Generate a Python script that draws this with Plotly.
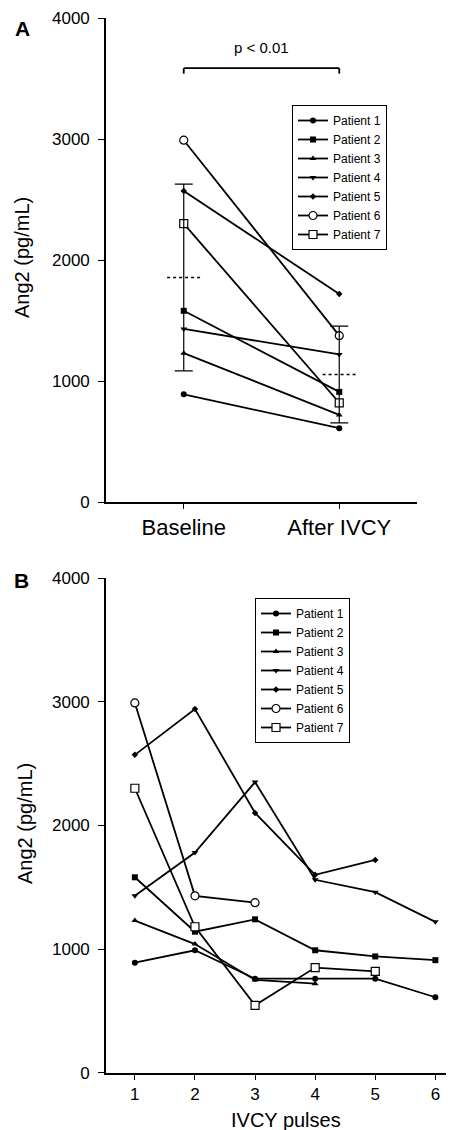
import numpy as np
import plotly.graph_objects as go

# ---------------- data ----------------
patients = ["Patient 1", "Patient 2", "Patient 3", "Patient 4", "Patient 5", "Patient 6", "Patient 7"]
conditions = ["Baseline", "After IVCY"]
baseline = [890, 1580, 1230, 1430, 2570, 2990, 2300]
after_ivcy = [610, 910, 720, 1220, 1720, 1375, 820]

pulses = [1, 2, 3, 4, 5, 6]
p1 = [890, 990, 760, 760, 760, 610]
p2 = [1580, 1140, 1240, 990, 940, 910]
p3 = [1230, 1040, 750, 720]
p4 = [1430, 1780, 2350, 1560, 1460, 1220]
p5 = [2570, 2940, 2100, 1600, 1720]
p6 = [2990, 1430, 1375]
p7 = [2300, 1180, 545, 850, 820]
series_b = [p1, p2, p3, p4, p5, p6, p7]

y_ticks = [0, 1000, 2000, 3000, 4000]
p_text = "p < 0.01"

# ---------------- style ----------------
W, H = 454, 1130
OFF = 8  # page body margin offset
FONT = "Liberation Sans, Arial, Helvetica, sans-serif"
marker_styles = [
    dict(symbol="circle", size=6, color="black"),
    dict(symbol="square", size=6, color="black"),
    dict(symbol="triangle-up", size=6, color="black"),
    dict(symbol="triangle-down", size=6, color="black"),
    dict(symbol="diamond", size=5, color="black"),
    dict(symbol="circle", size=8, color="white", line=dict(color="black", width=1.2)),
    dict(symbol="square", size=8, color="white", line=dict(color="black", width=1.2)),
]
LW = 1.8

def px_x(p):
    return (p - OFF) / W

def px_y(p):
    return (H - (p - OFF)) / H

fig = go.Figure()

# ---- Panel A ----
xa = list(range(len(conditions)))
for name, b, a, ms in zip(patients, baseline, after_ivcy, marker_styles):
    fig.add_trace(go.Scatter(
        x=xa, y=[b, a], mode="lines+markers", name=name,
        line=dict(color="black", width=LW), marker=ms,
        xaxis="x", yaxis="y", legend="legend"))

groups = [baseline, after_ivcy]
means = [float(np.mean(g)) for g in groups]
sds = [float(np.std(g, ddof=1)) for g in groups]
fig.add_trace(go.Scatter(
    x=xa, y=means, mode="markers", marker=dict(size=1, color="rgba(0,0,0,0)"),
    error_y=dict(type="data", array=sds, color="black", thickness=1.2, width=9),
    showlegend=False, xaxis="x", yaxis="y", hoverinfo="skip"))
hw = 0.107
for xi, m in zip(xa, means):
    fig.add_trace(go.Scatter(
        x=[xi - hw, xi + hw], y=[m, m], mode="lines",
        line=dict(color="black", width=1.5, dash="dot"),
        showlegend=False, xaxis="x", yaxis="y", hoverinfo="skip"))

# significance bracket
br_y, br_tick = 3585, 3540
fig.add_shape(type="line", xref="x", yref="y", x0=xa[0], x1=xa[1], y0=br_y, y1=br_y,
              line=dict(color="black", width=1.8))
for xi in xa:
    fig.add_shape(type="line", xref="x", yref="y", x0=xi, x1=xi, y0=br_tick, y1=br_y,
                  line=dict(color="black", width=1.8))
fig.add_annotation(x=(xa[0] + xa[1]) / 2, y=3760, xref="x", yref="y", text=p_text,
                   showarrow=False, font=dict(size=15, family=FONT, color="black"))

# ---- Panel B ----
for name, vals, ms in zip(patients, series_b, marker_styles):
    fig.add_trace(go.Scatter(
        x=pulses[:len(vals)], y=vals, mode="lines+markers", name=name,
        line=dict(color="black", width=LW), marker=ms,
        xaxis="x2", yaxis="y2", legend="legend2"))

axis_common = dict(showgrid=False, zeroline=False, showline=True, linecolor="black",
                   linewidth=1.6, ticks="outside", tickcolor="black", tickwidth=1.4,
                   color="black", automargin=False)

fig.update_layout(
    width=W, height=H, margin=dict(l=0, r=0, t=0, b=0, autoexpand=False),
    paper_bgcolor="white", plot_bgcolor="white",
    font=dict(family=FONT, color="black"),
    xaxis=dict(domain=[px_x(106), px_x(417)], anchor="y", range=[-0.5, 1.5],
               tickvals=xa, ticktext=conditions, ticklen=5,
               tickfont=dict(size=22), **axis_common),
    yaxis=dict(domain=[px_y(502), px_y(18)], anchor="x", range=[0, 4000],
               tickvals=y_ticks, ticklen=6, tickfont=dict(size=17),
               ticklabelstandoff=5, **axis_common),
    xaxis2=dict(domain=[px_x(106), px_x(454)], anchor="y2", range=[0.52, 6.31],
                tickvals=pulses, ticklen=5, tickfont=dict(size=17), **axis_common),
    yaxis2=dict(domain=[px_y(1072.7), px_y(578)], anchor="x2", range=[0, 4000],
                tickvals=y_ticks, ticklen=6, tickfont=dict(size=17),
                ticklabelstandoff=5, **axis_common),
    legend=dict(x=px_x(292), y=px_y(105), xanchor="left", yanchor="top",
                bordercolor="black", borderwidth=1, bgcolor="white",
                font=dict(size=12, family=FONT), tracegroupgap=0),
    legend2=dict(x=px_x(255), y=px_y(598), xanchor="left", yanchor="top",
                 bordercolor="black", borderwidth=1, bgcolor="white",
                 font=dict(size=12, family=FONT), tracegroupgap=0),
    showlegend=True,
)

# axis titles and panel labels
def label(xp, yp, text, size, angle=0, yanchor="middle"):
    fig.add_annotation(x=px_x(xp), y=px_y(yp), xref="paper", yref="paper", text=text,
                       textangle=angle, showarrow=False, xanchor="center", yanchor=yanchor,
                       font=dict(size=size, family=FONT, color="black"))

label(22, 258, "Ang2 (pg/mL)", 20, angle=-90)
label(25, 824, "Ang2 (pg/mL)", 20, angle=-90)
label(286, 1107, "IVCY pulses", 20, yanchor="top")
label(22, 28, "<b>A</b>", 21)
label(21, 580, "<b>B</b>", 21)

fig.write_html("out.html")
